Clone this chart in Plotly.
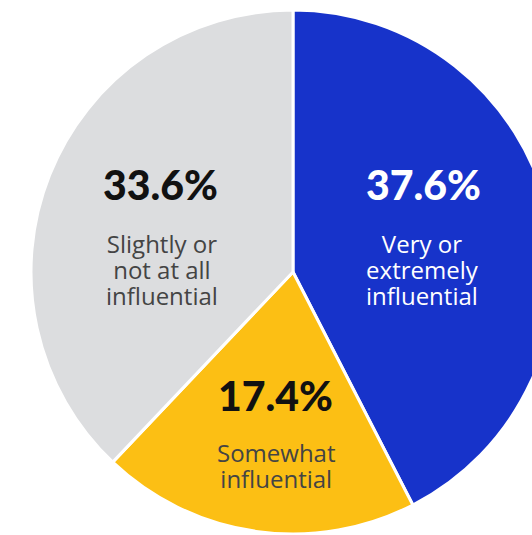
import plotly.graph_objects as go

categories = ["Very or extremely influential", "Somewhat influential", "Slightly or not at all influential"]
label_lines = [["Very or", "extremely", "influential"], ["Somewhat", "influential"], ["Slightly or", "not at all", "influential"]]
values = [37.6, 17.4, 33.6]
colors = ["#1733CA", "#FCBF14", "#DCDDDF"]
pct_colors = ["#FFFFFF", "#111111", "#111111"]
lbl_colors = ["#FFFFFF", "#444444", "#444444"]

# label placement (pixel centres in the 586x535 page)
pct_pos = [(423.5, 184.5), (275.5, 395.5), (160, 184.5)]
lbl_pos = [(422.5, 269), (276.5, 465), (162, 269)]

W, H = 586, 535
MT, MB = 10, 1
def px(x): return x / W
def py(y): return (H - MB - y) / (H - MT - MB)

fig = go.Figure(go.Pie(
    labels=categories,
    values=values,
    textinfo="none",
    sort=False,
    direction="clockwise",
    rotation=0,
    marker=dict(colors=colors, line=dict(color="#FFFFFF", width=3)),
    hoverinfo="label+value",
    showlegend=False,
))

annotations = []
for v, lines, pc, lc, (x1, y1), (x2, y2) in zip(values, label_lines, pct_colors, lbl_colors, pct_pos, lbl_pos):
    annotations.append(dict(
        x=px(x1), y=py(y1), xref="paper", yref="paper", showarrow=False,
        xanchor="center", yanchor="middle",
        text=f"<span style='font-weight:900'>{v:.1f}%</span>",
        font=dict(family="Lato, sans-serif", size=41, color=pc),
    ))
    annotations.append(dict(
        x=px(x2), y=py(y2), xref="paper", yref="paper", showarrow=False,
        xanchor="center", yanchor="middle", align="center",
        text="<br>".join(f"<span style='font-size:24px'>{l}</span>" for l in lines),
        font=dict(family="Open Sans, sans-serif", size=20, color=lc),
    ))

fig.update_layout(
    width=W, height=H,
    autosize=False,
    margin=dict(l=0, r=0, t=MT, b=MB),
    paper_bgcolor="#FFFFFF",
    plot_bgcolor="#FFFFFF",
    annotations=annotations,
)

fig.write_html("out.html", post_script="document.body.style.overflow='hidden';document.documentElement.style.overflow='hidden';")
